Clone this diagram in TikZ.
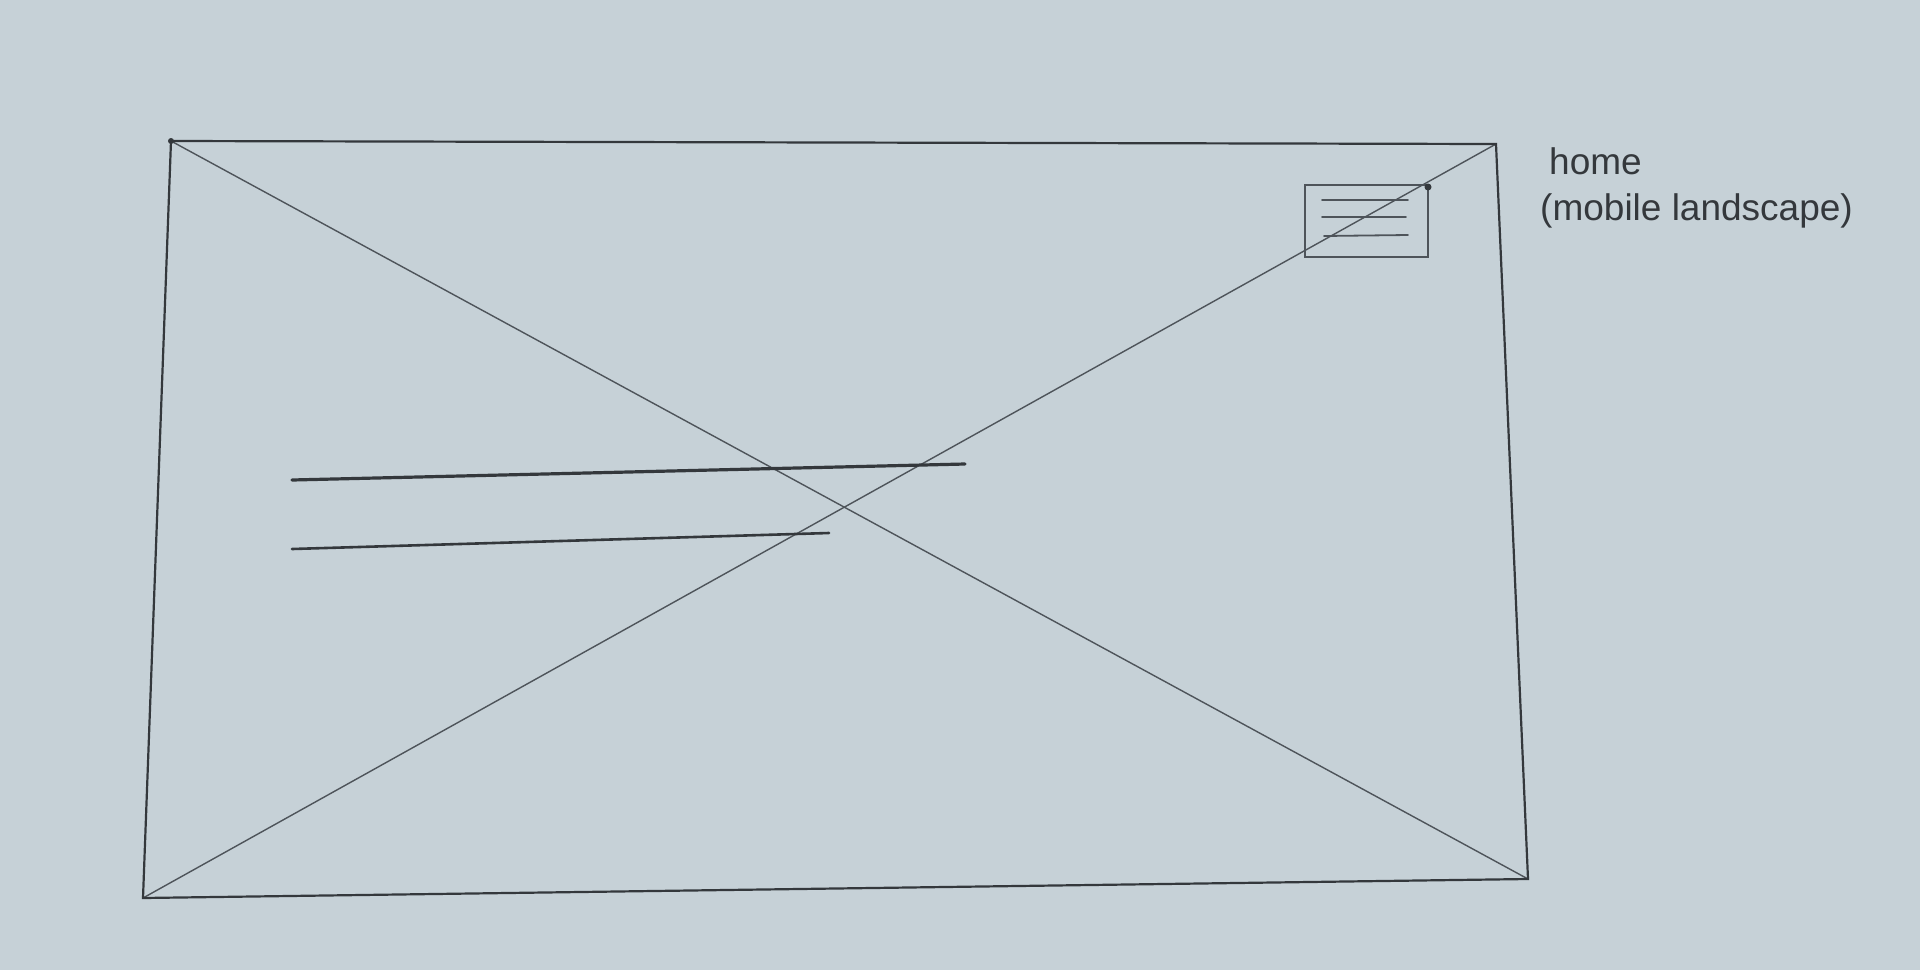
\documentclass[tikz,border=0pt]{standalone}
\usepackage{fontspec}
\setmainfont{Liberation Sans}
\definecolor{paper}{RGB}{198,209,215}
\definecolor{pencil}{RGB}{52,56,60}
\definecolor{pencillight}{RGB}{78,84,90}
\tikzset{
  frame/.style={draw=pencil, line width=2.2pt, line join=miter},
  diag/.style={draw=pencillight, line width=1.4pt},
  textline/.style={draw=pencil, line width=3.2pt, line cap=round},
  boxline/.style={draw=pencillight, line width=1.8pt, line cap=round},
  smallbox/.style={draw=pencillight, line width=1.8pt},
  label/.style={text=pencil, anchor=base west, inner sep=0pt, font=\fontsize{37}{44}\selectfont}
}
\begin{document}
\begin{tikzpicture}[x=1pt,y=-1pt]
\useasboundingbox (0,0) rectangle (1920,970);
\fill[paper] (0,0) rectangle (1920,970);
% frame corners
\coordinate (tl) at (171,141);
\coordinate (tr) at (1496,144);
\coordinate (br) at (1528,879);
\coordinate (bl) at (143,898);
% diagonals
\draw[diag] (tl) -- (br);
\draw[diag] (bl) -- (tr);
% frame
\draw[frame] (tl) -- (tr) -- (br) -- (bl) -- cycle;
\fill[pencil] (tl) circle (3pt);
% small box with menu lines
\coordinate (sbtl) at (1305,185);
\coordinate (sbbr) at (1428,257);
\draw[smallbox] (sbtl) rectangle (sbbr);
\fill[pencil] (1428,187) circle (3.5pt);
\coordinate (m1a) at (1322,200); \coordinate (m1b) at (1408,200);
\coordinate (m2a) at (1322,217); \coordinate (m2b) at (1406,217);
\coordinate (m3a) at (1324,236); \coordinate (m3b) at (1408,235);
\draw[boxline] (m1a) -- (m1b);
\draw[boxline] (m2a) -- (m2b);
\draw[boxline] (m3a) -- (m3b);
% text lines
\coordinate (l1a) at (292,480); \coordinate (l1b) at (965,464);
\coordinate (l2a) at (292,549); \coordinate (l2b) at (829,533);
\draw[textline] (l1a) -- (l1b);
\draw[textline, line width=2.6pt] (l2a) -- (l2b);
% labels
\node[label] (home) at (1549,174) {home};
\node[label] (mode) at (1540,220) {(mobile landscape)};
\end{tikzpicture}
\end{document}
